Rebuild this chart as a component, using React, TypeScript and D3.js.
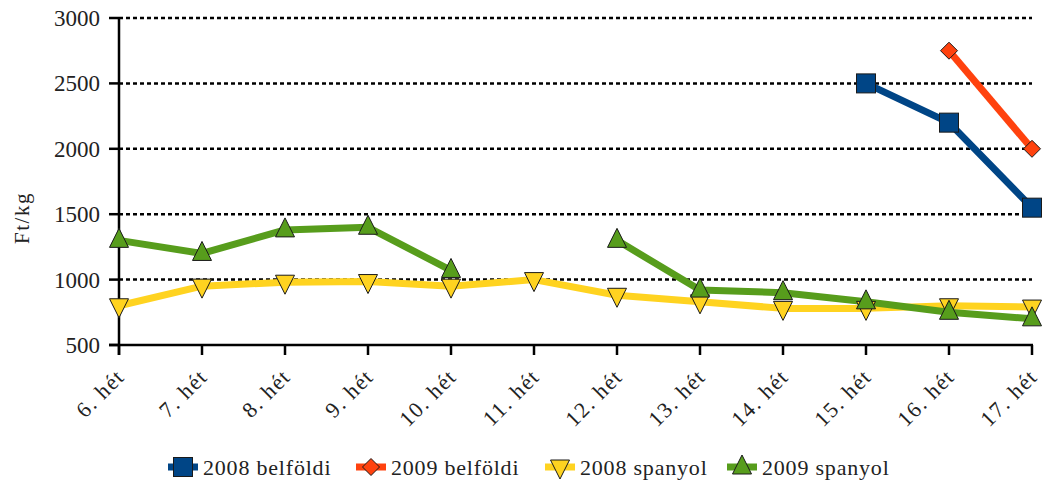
import React from "react";
import * as d3 from "d3";

const weeks = ["6. hét","7. hét","8. hét","9. hét","10. hét","11. hét","12. hét","13. hét","14. hét","15. hét","16. hét","17. hét"];
const belfoldi2008 = [null,null,null,null,null,null,null,null,null,2500,2200,1550];
const belfoldi2009 = [null,null,null,null,null,null,null,null,null,null,2750,2000];
const spanyol2008 = [800,950,980,985,950,1000,880,830,780,780,800,790];
const spanyol2009 = [1300,1200,1380,1400,1070,null,1300,920,900,830,750,700];
const yTicks = [500,1000,1500,2000,2500,3000];

const series = [
  { name: "2008 belföldi", values: belfoldi2008, color: "#004586", marker: "square" },
  { name: "2009 belföldi", values: belfoldi2009, color: "#ff420e", marker: "diamond" },
  { name: "2008 spanyol", values: spanyol2008, color: "#ffd320", marker: "down" },
  { name: "2009 spanyol", values: spanyol2009, color: "#579d1c", marker: "up" },
];

const FONT = "Liberation Serif, serif";

function Marker({ type, x, y, color }: { type: string; x: number; y: number; color: string }) {
  const stroke = "#1a1a1a";
  if (type === "square") return <rect x={x - 9.5} y={y - 9.5} width={19} height={19} fill={color} stroke={stroke} strokeWidth={1} />;
  if (type === "diamond") return <path d={`M${x},${y - 8.5}L${x + 8.5},${y}L${x},${y + 8.5}L${x - 8.5},${y}Z`} fill={color} stroke={stroke} strokeWidth={1} />;
  if (type === "down") return <path d={`M${x - 9.5},${y - 7}L${x + 9.5},${y - 7}L${x},${y + 12}Z`} fill={color} stroke={stroke} strokeWidth={1} />;
  return <path d={`M${x - 9.5},${y + 7}L${x + 9.5},${y + 7}L${x},${y - 12}Z`} fill={color} stroke={stroke} strokeWidth={1} />;
}

export default function App() {
  const W = 1044, H = 485;
  const left = 119, right = 1032, top = 18, bottom = 345;
  const x = d3.scalePoint<string>().domain(weeks).range([left, right]);
  const y = d3.scaleLinear().domain([500, 3000]).range([bottom, top]);
  const line = d3.line<number | null>()
    .defined((d) => d != null)
    .x((_, i) => x(weeks[i])!)
    .y((d) => y(d as number));

  const legendX = [168, 356, 545, 727];
  const ts = { fontFamily: FONT, fill: "#222" } as React.CSSProperties;

  return (
    <svg width={W} height={H} style={{ position: "absolute", left: 0, top: 0, fontFamily: FONT }}>
      {yTicks.filter((t) => t > 500).map((t) => (
        <line key={t} x1={left} x2={right} y1={y(t)} y2={y(t)} stroke="#000" strokeWidth={2.5} strokeDasharray="4 3" />
      ))}
      <line x1={left} x2={left} y1={top} y2={bottom + 10} stroke="#000" strokeWidth={2.5} />
      <line x1={left - 10} x2={right + 1} y1={bottom} y2={bottom} stroke="#000" strokeWidth={2.5} />
      {yTicks.map((t) => (
        <g key={t}>
          <line x1={left - 10} x2={left} y1={y(t)} y2={y(t)} stroke="#000" strokeWidth={2.5} />
          <text x={left - 19} y={y(t)} dy="0.35em" textAnchor="end" fontSize={23} style={ts}>{t}</text>
        </g>
      ))}
      {weeks.map((w) => (
        <g key={w}>
          <line x1={x(w)!} x2={x(w)!} y1={bottom} y2={bottom + 10} stroke="#000" strokeWidth={2.5} />
          <text transform={`translate(${x(w)! + 7},${bottom + 33}) rotate(-45)`} textAnchor="end" fontSize={22} letterSpacing={1.5} style={ts}>{w}</text>
        </g>
      ))}
      <text transform={`translate(29,218) rotate(-90)`} textAnchor="middle" fontSize={21} letterSpacing={1.5} style={ts}>Ft/kg</text>
      {series.map((s) => (
        <path key={s.name} d={line(s.values) || ""} fill="none" stroke={s.color} strokeWidth={7} strokeLinejoin="round" />
      ))}
      {series.map((s) => (
        <g key={s.name + "m"}>
          {s.values.map((v, i) => v == null ? null : <Marker key={i} type={s.marker} x={x(weeks[i])!} y={y(v)} color={s.color} />)}
        </g>
      ))}
      {series.map((s, i) => (
        <g key={s.name + "l"}>
          <line x1={legendX[i]} x2={legendX[i] + 30} y1={467} y2={467} stroke={s.color} strokeWidth={7} />
          <Marker type={s.marker} x={legendX[i] + 15} y={467} color={s.color} />
          <text x={legendX[i] + 35} y={467} dy="0.35em" fontSize={22} letterSpacing={0.8} style={ts}>{s.name}</text>
        </g>
      ))}
    </svg>
  );
}
